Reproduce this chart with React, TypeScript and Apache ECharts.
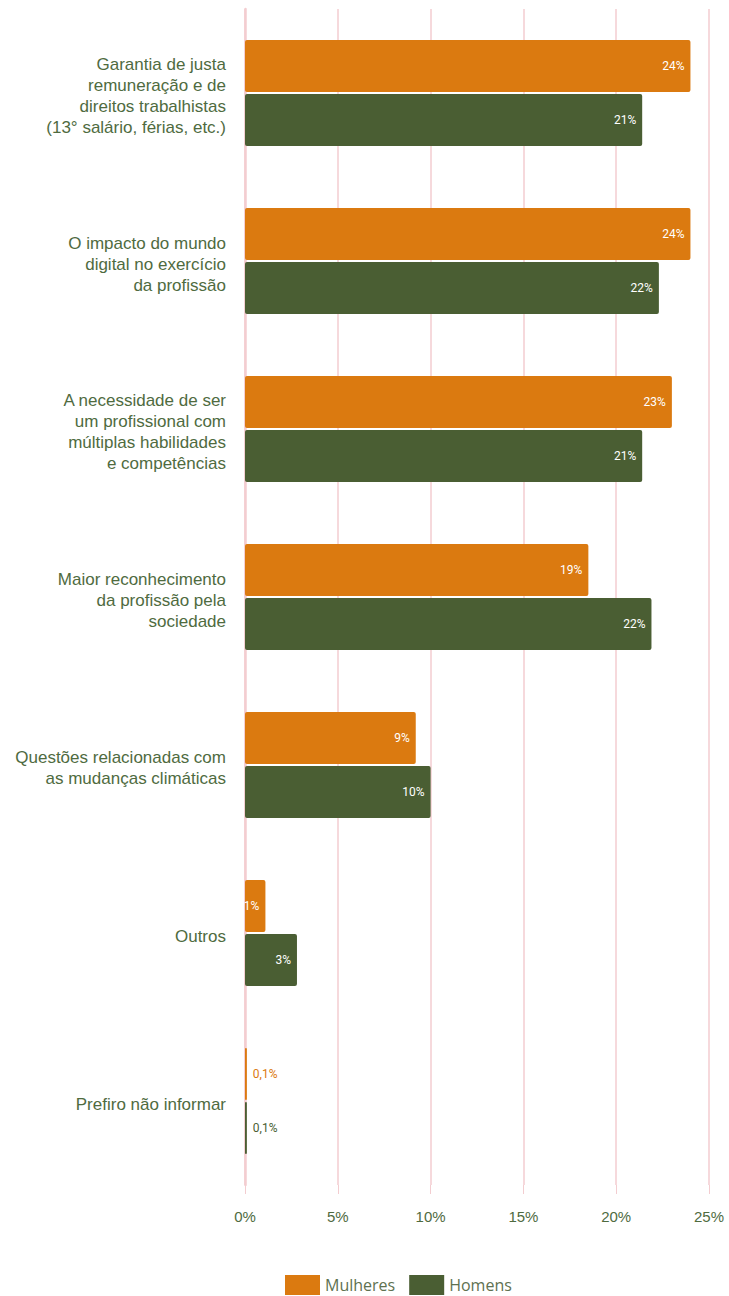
import React, { useEffect, useRef } from "react";
import * as echarts from "echarts";

const categories = [
  "Garantia de justa\nremuneração e de\ndireitos trabalhistas\n(13° salário, férias, etc.)",
  "O impacto do mundo\ndigital no exercício\nda profissão",
  "A necessidade de ser\num profissional com\nmúltiplas habilidades\ne competências",
  "Maior reconhecimento\nda profissão pela\nsociedade",
  "Questões relacionadas com\nas mudanças climáticas",
  "Outros",
  "Prefiro não informar",
];
const mulheres = [24.0, 24.0, 23.0, 18.5, 9.2, 1.1, 0.1];
const homens = [21.4, 22.3, 21.4, 21.9, 10.0, 2.8, 0.1];
const xTicks = [0, 5, 10, 15, 20, 25];

const ORANGE = "#DB7A10";
const GREEN = "#4A5E33";
const TEXT = "#4F6B3F";
const GRID = "#F3CDD0";

function fmt(v: number) {
  return v < 0.5 ? String(v).replace(".", ",") + "%" : Math.round(v) + "%";
}

function seriesData(vals: number[], color: string) {
  return vals.map((v) => {
    const outside = v < 0.5;
    return {
      value: v,
      label: outside
        ? { position: "right", color: color, distance: 6 }
        : { position: "insideRight", color: "#FFFFFF", distance: 6 },
    };
  });
}

export default function App() {
  const ref = useRef<HTMLDivElement>(null);
  useEffect(() => {
    document.body.style.margin = "0";
    document.body.style.overflow = "hidden";
    const chart = echarts.init(ref.current!, null, { renderer: "svg" });
    chart.setOption({
      animation: false,
      backgroundColor: "#FFFFFF",
      grid: { left: 245, right: 20, top: 9, height: 1176, containLabel: false },
      legend: {
        top: 1275,
        left: 285,
        padding: 0,
        itemWidth: 35,
        itemHeight: 20,
        itemGap: 14,
        icon: "rect",
        textStyle: { color: "#5E7150", fontSize: 16, fontFamily: "Open Sans" },
        data: ["Mulheres", "Homens"],
      },
      xAxis: {
        type: "value",
        min: xTicks[0],
        max: xTicks[xTicks.length - 1],
        interval: 5,
        axisLine: { show: false },
        axisTick: { show: true, length: 9, lineStyle: { color: GRID } },
        splitLine: { show: true, lineStyle: { color: GRID, width: 1.5 } },
        axisLabel: {
          formatter: (v: number) => v + "%",
          color: TEXT,
          fontSize: 15,
          fontFamily: "Liberation Sans",
          margin: 24,
        },
      },
      yAxis: {
        type: "category",
        inverse: true,
        data: categories,
        axisLine: { show: true, lineStyle: { color: GRID, width: 2.5 } },
        axisTick: { show: false },
        axisLabel: {
          color: TEXT,
          fontSize: 17,
          fontFamily: "Liberation Sans",
          lineHeight: 21,
          align: "right",
          margin: 19,
          formatter: (v: string) => "{s| }\n" + v,
          rich: { s: { fontSize: 1, lineHeight: 6 } },
        },
      },
      series: [
        {
          name: "Mulheres",
          type: "bar",
          barWidth: 52,
          barGap: "4%",
          itemStyle: { color: ORANGE, borderRadius: 2 },
          label: {
            show: true,
            formatter: (p: any) => fmt(p.value),
            fontSize: 12,
            fontFamily: "Roboto",
          },
          data: seriesData(mulheres, ORANGE),
        },
        {
          name: "Homens",
          type: "bar",
          barWidth: 52,
          barGap: "4%",
          itemStyle: { color: GREEN, borderRadius: 2 },
          label: {
            show: true,
            formatter: (p: any) => fmt(p.value),
            fontSize: 12,
            fontFamily: "Roboto",
          },
          data: seriesData(homens, GREEN),
        },
      ],
    });
    return () => chart.dispose();
  }, []);
  return <div ref={ref} style={{ width: 729, height: 1296 }} />;
}
